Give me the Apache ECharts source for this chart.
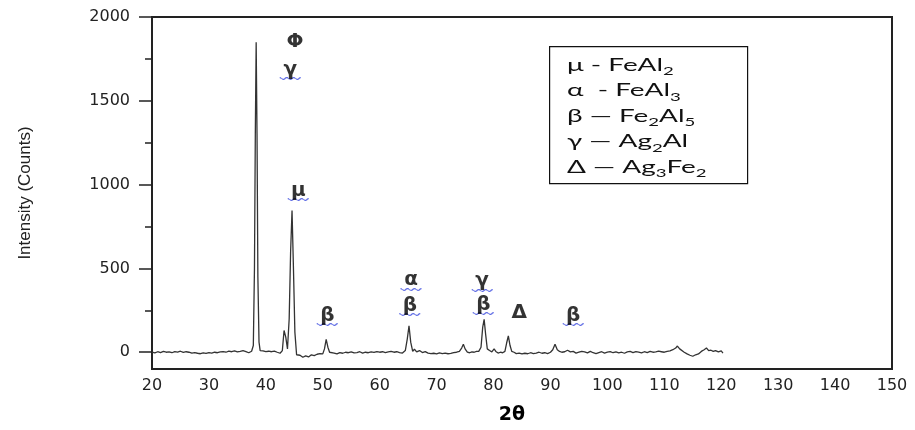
<!DOCTYPE html>
<html>
<head>
<meta charset="utf-8">
<script src="https://cdn.jsdelivr.net/npm/echarts@6/dist/echarts.min.js"></script>
<style>html,body{margin:0;padding:0;background:#fff}#c{width:915px;height:430px}</style>
</head>
<body>
<div id="c"></div>
<script>
// 2θ positions (degrees)
const twoTheta = [
20,20.5,21,21.5,22,22.5,23,23.5,24,24.5,25,25.5,26,26.5,27,27.5,28,28.5,29,29.5,
30,30.5,31,31.5,32,32.5,33,33.5,34,34.5,35,35.5,36,36.5,37,37.5,37.8,38.0,38.15,38.3,
38.45,38.6,38.8,39,39.5,40,40.5,41,41.5,42,42.5,42.9,43.2,43.5,43.8,44.1,44.35,44.6,44.85,45.1,
45.4,45.7,46,46.5,47,47.5,48,48.5,49,49.5,50,50.3,50.6,50.9,51.2,51.5,52,52.5,53,53.5,
54,54.5,55,55.5,56,56.5,57,57.5,58,58.5,59,59.5,60,60.5,61,61.5,62,62.5,63,63.5,
64,64.5,64.85,65.15,65.45,65.8,66.1,66.5,67,67.5,68,68.5,69,69.5,70,70.5,71,71.5,72,72.5,
73,73.5,74,74.4,74.7,75,75.4,75.8,76.2,76.6,77,77.4,77.8,78.1,78.35,78.6,78.9,79.3,79.7,80.1,
80.4,80.8,81.2,81.6,82,82.3,82.6,82.9,83.2,83.6,84,84.5,85,85.5,86,86.5,87,87.5,88,88.5,
89,89.5,90,90.4,90.8,91.2,91.6,92,92.5,93,93.5,94,94.5,95,95.5,96,96.5,97,97.5,98,
98.5,99,99.5,100,100.5,101,101.5,102,102.5,103,103.5,104,104.5,105,105.5,106,106.5,107,107.5,108,
108.5,109,109.5,110,110.5,111,111.5,112,112.3,112.7,113,113.5,114,114.5,115,115.5,116,116.5,117,117.4,
117.8,118.2,118.6,119,119.5,120,120.3
];
// Intensity (counts)
const intensity = [
0,-4,3,-2,5,0,2,-3,4,1,6,-1,3,0,-5,-2,-6,-9,-4,-7,
-2,-5,0,-3,2,4,0,6,3,8,2,5,9,4,-3,6,40,500,1300,1850,
1300,450,60,10,8,4,6,3,7,0,-6,10,130,90,20,200,600,845,500,120,
-15,-25,-18,-30,-22,-28,-15,-20,-12,-8,-10,20,77,30,0,-8,-5,-10,-2,-6,
0,-3,2,-4,-2,3,-5,0,-3,2,-1,4,0,3,-2,2,5,0,3,-2,
-5,10,80,158,60,5,18,2,10,-2,4,-5,-8,-6,-10,-4,-8,-5,-9,-7,
-2,0,5,25,48,20,0,-3,2,0,5,5,30,150,196,110,20,10,2,20,
5,-5,0,-3,5,55,97,40,5,0,-8,-5,-10,-6,-9,-3,-8,-5,0,-6,
-3,-8,0,15,48,15,5,0,3,12,2,5,-5,0,5,2,-4,5,-3,-8,
-2,3,-5,0,4,-3,2,-4,0,-6,2,5,-2,4,0,-4,3,-2,5,0,
2,6,3,0,5,8,15,25,37,20,15,0,-10,-18,-24,-15,-10,5,15,25,
10,12,5,10,2,8,-5
];
// Peak annotations: symbol, 2θ, intensity position, underlined?
const annSymbols = ['Φ','γ','μ','β','α','β','γ','β','Δ','β'];
const annX       = [45.1, 44.3, 45.7, 50.8, 65.5, 65.3, 78.0, 78.2, 84.5, 94.0];
const annY       = [1853, 1687, 965, 220, 432, 279, 427, 285, 237, 220];
const annWavy    = [false, true, true, true, true, true, true, true, false, true];
// Axis ticks
const yLabelTicks = [0, 500, 1000, 1500, 2000];
const yMinorTicks = [250, 750, 1250, 1750];
// Phase key
const keySymbols = ['μ', 'α', 'β', 'γ', 'Δ'];
const keySep     = [' - ', '  - ', ' — ', ' — ', ' — '];
const keyFormula = [[['Fe',''],['Al','2']], [['Fe',''],['Al','3']], [['Fe','2'],['Al','5']], [['Ag','2'],['Al','']], [['Ag','3'],['Fe','2']]];

const lineData = twoTheta.map((x, i) => [x, intensity[i]]);
const annData = annSymbols.map((s, i) => ({ value: [annX[i], annY[i]], sym: s }));
const waveData = annSymbols.map((s, i) => ({ value: [annX[i], annY[i]] })).filter((d, i) => annWavy[i]);

const keyText = keySymbols.map((s, i) => {
  let t = '{k|' + s + keySep[i] + '}';
  keyFormula[i].forEach(([el, sub]) => {
    t += '{k|' + el + '}';
    if (sub) t += '{s|' + sub + '}';
  });
  return t;
}).join('\n');

const chart = echarts.init(document.getElementById('c'), null, { renderer: 'canvas' });
chart.setOption({
  animation: false,
  backgroundColor: '#fff',
  graphic: [{
    type: 'rect', left: 549, top: 46, z: 10,
    shape: { width: 198, height: 137 },
    style: { fill: '#fff', stroke: '#111', lineWidth: 1.2 }
  }, {
    type: 'text', x: 567, y: 52, scaleX: 1.55, z: 11,
    style: {
      text: keyText, fill: '#111', verticalAlign: 'top', align: 'left',
      font: '18px Lato, "Open Sans", sans-serif',
      rich: {
        k: { fontFamily: 'Lato, "Open Sans", sans-serif', fontSize: 18, fill: '#111', lineHeight: 25.5 },
        s: { fontFamily: 'Lato, "Open Sans", sans-serif', fontSize: 12, fill: '#111', lineHeight: 16, verticalAlign: 'bottom' }
      }
    }
  }],
  grid: {
    left: 152, right: 23, top: 17, bottom: 58,
    show: true, borderWidth: 2, borderColor: '#222'
  },
  xAxis: {
    type: 'value', min: 20, max: 150, interval: 10,
    axisLine: { show: true, onZero: false, lineStyle: { color: '#222', width: 2 } },
    axisTick: { show: false },
    splitLine: { show: false },
    axisLabel: { fontFamily: '"DejaVu Sans", sans-serif', fontSize: 16, color: '#222', margin: 9 },
    name: '2θ', nameLocation: 'middle', nameGap: 37,
    nameTextStyle: { fontFamily: '"DejaVu Sans", sans-serif', fontWeight: 'bold', fontSize: 19, color: '#000', padding: [0, 20, 0, 0] }
  },
  yAxis: [{
    type: 'value', min: -100, max: 2000,
    axisLine: { show: true, lineStyle: { color: '#222', width: 2 } },
    axisTick: { show: true, inside: false, length: 13, customValues: yLabelTicks, lineStyle: { color: '#222', width: 1.5 } },
    axisLabel: { customValues: yLabelTicks, formatter: v => String(v), fontFamily: '"DejaVu Sans", sans-serif', fontSize: 16, color: '#222', margin: 22 },
    splitLine: { show: false },
    name: 'Intensity (Counts)', nameLocation: 'middle', nameRotate: 90, nameGap: 118,
    nameTextStyle: { fontFamily: '"Liberation Sans", Arial, sans-serif', fontSize: 17, color: '#222' }
  }, {
    type: 'value', min: -100, max: 2000, position: 'left',
    axisLine: { show: false },
    axisTick: { show: true, inside: false, length: 7, customValues: yMinorTicks, lineStyle: { color: '#222', width: 1.5 } },
    axisLabel: { show: false },
    splitLine: { show: false }
  }],
  series: [{
    type: 'line', data: lineData, xAxisIndex: 0, yAxisIndex: 0,
    showSymbol: false, symbol: 'none',
    lineStyle: { color: '#333', width: 1.3 }
  }, {
    type: 'scatter', data: waveData, xAxisIndex: 0, yAxisIndex: 0,
    symbolSize: 0, silent: true,
    label: {
      show: true, position: 'inside', offset: [0, 0],
      formatter: '﹏',
      fontFamily: '"Noto Sans CJK SC", sans-serif', fontSize: 21, color: '#3344dd'
    }
  }, {
    type: 'scatter', data: annData, xAxisIndex: 0, yAxisIndex: 0,
    symbolSize: 0, silent: true,
    label: {
      show: true, position: 'inside',
      formatter: p => p.data.sym,
      fontFamily: '"DejaVu Sans", sans-serif', fontWeight: 'bold', fontSize: 20, color: '#000'
    }
  }]
});
</script>
</body>
</html>
